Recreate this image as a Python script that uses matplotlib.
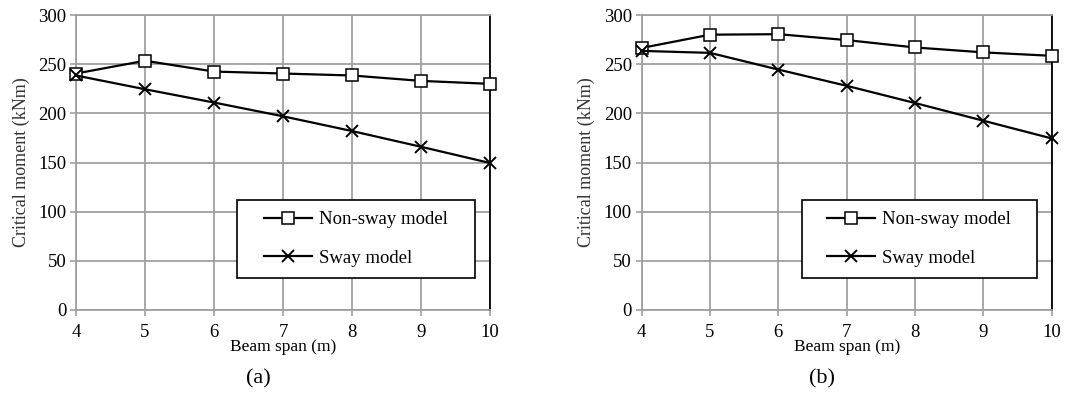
import matplotlib.pyplot as plt
import numpy as np
from matplotlib.patches import Rectangle

plt.rcParams["font.family"] = ["Liberation Serif", "DejaVu Serif"]

span = [4, 5, 6, 7, 8, 9, 10]

# panel (a)
nonsway_a = [240.5, 253.5, 242.5, 240.5, 238.5, 233, 230]
sway_a = [238.5, 224.5, 211, 197, 182, 166, 149.5]

# panel (b)
nonsway_b = [266.5, 280, 280.5, 274.5, 267, 262, 258.5]
sway_b = [263.5, 261.5, 244.5, 228, 210.5, 192.5, 174.5]

panels = [("(a)", nonsway_a, sway_a, 0.0699, 0.3809),
          ("(b)", nonsway_b, sway_b, 0.5903, 0.3772)]

fig = plt.figure(figsize=(10.87, 3.94), dpi=100)

for tag, ns, sw, left, width in panels:
    ax = fig.add_axes([left, 0.2132, width, 0.7487])
    ax.plot(span, ns, color="black", linewidth=1.6, marker="s", markersize=8.5,
            markerfacecolor="white", markeredgecolor="black", markeredgewidth=1.1,
            label="Non-sway model", zorder=3, clip_on=False)
    ax.plot(span, sw, color="black", linewidth=1.6, marker="x", markersize=8.5,
            markeredgewidth=1.4, label="Sway model", zorder=3, clip_on=False)
    ax.set_xlim(4, 10)
    ax.set_ylim(0, 300)
    ax.set_xticks(span)
    ax.set_yticks(np.arange(0, 301, 50))
    ax.grid(True, color="#a0a0a0", linewidth=1.3)
    ax.set_axisbelow(True)
    for s in ["left", "top", "bottom"]:
        ax.spines[s].set_color("#a0a0a0")
        ax.spines[s].set_linewidth(1.3)
    ax.spines["right"].set_color("black")
    ax.spines["right"].set_linewidth(1.3)
    ax.tick_params(axis="both", labelsize=13.5, color="#a0a0a0", length=4, width=1.2)
    ax.tick_params(axis="x", pad=6)
    ax.tick_params(axis="y", pad=3)
    ax.set_ylabel("Critical moment (kNm)", fontsize=13, color="#333333", labelpad=6)
    ax.set_xlabel("Beam span (m)", fontsize=12.5, labelpad=-1)

    # legend box drawn by hand so the side padding can differ from the top
    ax.add_patch(Rectangle((0.39, 0.108), 0.574, 0.265, transform=ax.transAxes,
                           facecolor="white", edgecolor="black", linewidth=1.2,
                           zorder=4))
    leg = ax.legend(loc="center", bbox_to_anchor=(0.676, 0.241), fontsize=13.5,
                    handlelength=2.6, handletextpad=0.37, labelspacing=1.15,
                    borderpad=0, borderaxespad=0, frameon=False)
    leg.set_zorder(5)
    ax.text(0.44, -0.235, tag, transform=ax.transAxes, ha="center", va="center",
            fontsize=16)

fig.savefig("out.png", dpi=100)
